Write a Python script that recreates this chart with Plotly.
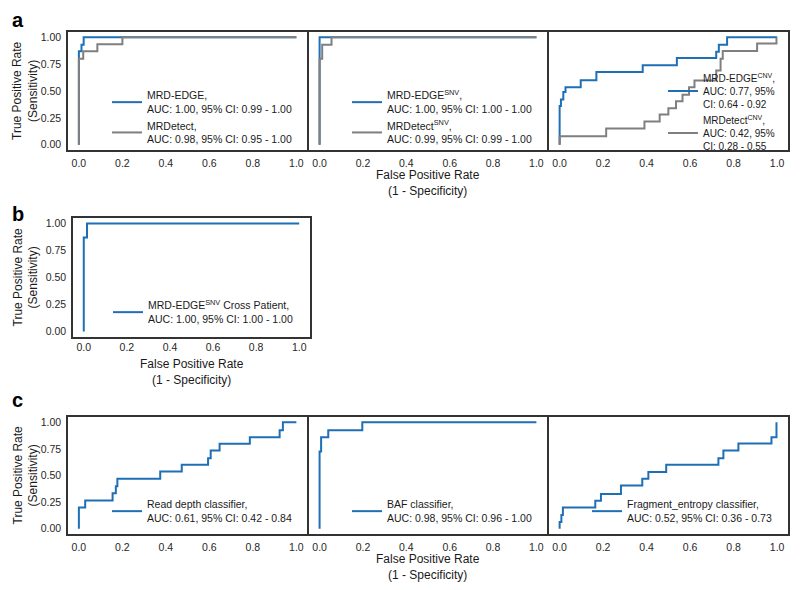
import plotly.graph_objects as go

# The page body has an 8px margin, so the figure is drawn 8px in from the corner.
OFF = 8
W, H = 800 - 2 * OFF, 590 - 2 * OFF
FONT = "Liberation Sans, Arial, sans-serif"
BLUE = "#1f6fb5"
GRAY = "#7f7f7f"

# ---------------- data (ROC corner points: fpr, tpr) ----------------
a1_edge_fpr = [0.0, 0.0, 0.012, 0.022, 1.0]
a1_edge_tpr = [0.0, 0.87, 0.93, 1.0, 1.0]
a1_det_fpr = [0.0, 0.0, 0.02, 0.085, 0.20, 1.0]
a1_det_tpr = [0.0, 0.80, 0.87, 0.935, 1.0, 1.0]

a2_edge_fpr = [0.0, 0.0, 1.0]
a2_edge_tpr = [0.0, 1.0, 1.0]
a2_det_fpr = [0.0, 0.0, 0.012, 0.055, 1.0]
a2_det_tpr = [0.0, 0.80, 0.93, 1.0, 1.0]

a3_edge_fpr = [0.0, 0.0, 0.006, 0.017, 0.027, 0.097, 0.169, 0.382, 0.539, 0.72, 0.732, 0.77, 1.0]
a3_edge_tpr = [0.0, 0.36, 0.42, 0.49, 0.535, 0.600, 0.676, 0.740, 0.808, 0.865, 0.930, 1.0, 1.0]
a3_det_fpr = [0.0, 0.0, 0.214, 0.39, 0.46, 0.50, 0.535, 0.565, 0.595, 0.62, 0.72, 0.74, 0.75, 0.908, 0.997]
a3_det_tpr = [0.0, 0.078, 0.15, 0.215, 0.28, 0.34, 0.405, 0.465, 0.535, 0.597, 0.69, 0.80, 0.874, 0.943, 1.0]

b_fpr = [0.0, 0.0, 0.015, 1.0]
b_tpr = [0.0, 0.87, 1.0, 1.0]

c1_fpr = [0.0, 0.0, 0.029, 0.155, 0.17, 0.177, 0.374, 0.473, 0.594, 0.606, 0.647, 0.786, 0.923, 0.938, 1.0]
c1_tpr = [0.0, 0.20, 0.266, 0.334, 0.40, 0.469, 0.538, 0.60, 0.663, 0.736, 0.798, 0.86, 0.925, 1.0, 1.0]

c2_fpr = [0.0, 0.0, 0.007, 0.04, 0.197, 1.0]
c2_tpr = [0.0, 0.726, 0.86, 0.925, 1.0, 1.0]

c3_fpr = [0.0, 0.0, 0.008, 0.015, 0.164, 0.19, 0.282, 0.38, 0.408, 0.49, 0.73, 0.753, 0.822, 0.974, 0.997]
c3_tpr = [0.0, 0.063, 0.129, 0.20, 0.263, 0.326, 0.405, 0.469, 0.532, 0.60, 0.663, 0.736, 0.80, 0.86, 1.0]

x_ticks = [0.0, 0.2, 0.4, 0.6, 0.8, 1.0]
y_ticks = [0.0, 0.25, 0.5, 0.75, 1.0]

labels = {
    "a1_edge": "MRD-EDGE,<br>AUC: 1.00, 95% CI: 0.99 - 1.00",
    "a1_det": "MRDetect,<br>AUC: 0.98, 95% CI: 0.95 - 1.00",
    "a2_edge": "MRD-EDGE<sup>SNV</sup>,<br>AUC: 1.00, 95% CI: 1.00 - 1.00",
    "a2_det": "MRDetect<sup>SNV</sup>,<br>AUC: 0.99, 95% CI: 0.99 - 1.00",
    "a3_edge": "MRD-EDGE<sup>CNV</sup>,<br>AUC: 0.77, 95%<br>CI: 0.64 - 0.92",
    "a3_det": "MRDetect<sup>CNV</sup>,<br>AUC: 0.42, 95%<br>CI: 0.28 - 0.55",
    "b": "MRD-EDGE<sup>SNV</sup> Cross Patient,<br>AUC: 1.00, 95% CI: 1.00 - 1.00",
    "c1": "Read depth classifier,<br>AUC: 0.61, 95% CI: 0.42 - 0.84",
    "c2": "BAF classifier,<br>AUC: 0.98, 95% CI: 0.96 - 1.00",
    "c3": "Fragment_entropy classifier,<br>AUC: 0.52, 95% CI: 0.36 - 0.73",
}

# ---------------- layout geometry (window pixels) ----------------
LW = 1.5
boxes = {
    1: ((68, 308 - LW / 2), (32, 150)),
    2: ((308 + LW / 2, 548 - LW / 2), (32, 150)),
    3: ((548 + LW / 2, 788), (32, 150)),
    4: ((73, 310), (218, 337)),
    5: ((68, 308 - LW / 2), (417, 534)),
    6: ((308 + LW / 2, 548 - LW / 2), (417, 534)),
    7: ((548 + LW / 2, 788), (417, 534)),
}
legend_pos = {1: (107, 82), 2: (347, 82), 3: (663, 65), 4: (108, 292),
              5: (107, 491), 6: (347, 491), 7: (587, 491)}
legend_size = {1: 10.5, 2: 10.5, 3: 10, 4: 10.5, 5: 10.5, 6: 10.5, 7: 10.5}
xlabel_standoff = {1: 3, 2: 3, 3: 3, 4: 0, 5: 3, 6: 3, 7: 3}


def fx(p):
    return (p - OFF) / W


def fy(p):
    return 1 - (p - OFF) / H


fig = go.Figure()


def add(fpr, tpr, color, name, i):
    sfx = "" if i == 1 else str(i)
    fig.add_trace(go.Scatter(
        x=fpr, y=tpr, mode="lines", name=name,
        line=dict(color=color, width=2, shape="hv"),
        xaxis="x" + sfx, yaxis="y" + sfx, legend="legend" + sfx,
        hoverinfo="skip",
    ))


add(a1_edge_fpr, a1_edge_tpr, BLUE, labels["a1_edge"], 1)
add(a1_det_fpr, a1_det_tpr, GRAY, labels["a1_det"], 1)
add(a2_edge_fpr, a2_edge_tpr, BLUE, labels["a2_edge"], 2)
add(a2_det_fpr, a2_det_tpr, GRAY, labels["a2_det"], 2)
add(a3_edge_fpr, a3_edge_tpr, BLUE, labels["a3_edge"], 3)
add(a3_det_fpr, a3_det_tpr, GRAY, labels["a3_det"], 3)
add(b_fpr, b_tpr, BLUE, labels["b"], 4)
add(c1_fpr, c1_tpr, BLUE, labels["c1"], 5)
add(c2_fpr, c2_tpr, BLUE, labels["c2"], 6)
add(c3_fpr, c3_tpr, BLUE, labels["c3"], 7)

tickfont = dict(family=FONT, size=10.5, color="#262626")
layout = dict(
    width=W, height=H, margin=dict(l=0, r=0, t=0, b=0),
    paper_bgcolor="white", plot_bgcolor="white",
    font=dict(family=FONT, color="#1a1a1a"),
    showlegend=True,
)
for i, ((x0, x1), (y0, y1)) in boxes.items():
    sfx = "" if i == 1 else str(i)
    layout["xaxis" + sfx] = dict(
        domain=[fx(x0), fx(x1)], anchor="y" + sfx, range=[-0.05, 1.05],
        tickvals=x_ticks, tickformat=".1f", showgrid=False, zeroline=False,
        showline=True, mirror=True, linecolor="#333333", linewidth=LW,
        ticks="", ticklabelstandoff=xlabel_standoff[i], tickfont=tickfont, fixedrange=True,
    )
    layout["yaxis" + sfx] = dict(
        domain=[fy(y1), fy(y0)], anchor="x" + sfx, range=[-0.05, 1.05],
        tickvals=y_ticks, tickformat=".2f", showgrid=False, zeroline=False,
        showline=True, mirror=True, linecolor="#333333", linewidth=LW,
        ticks="", ticklabelstandoff=3, tickfont=tickfont, fixedrange=True,
        showticklabels=i in (1, 4, 5),
    )
    lx, ly = legend_pos[i]
    layout["legend" + sfx] = dict(
        x=fx(lx), y=fy(ly), xanchor="left", yanchor="top",
        xref="paper", yref="paper",
        bgcolor="rgba(0,0,0,0)", borderwidth=0, traceorder="normal",
        font=dict(family=FONT, size=legend_size[i], color="#1a1a1a"),
    )

annotations = []
ytitle = "True Positive Rate<br>(Sensitivity)"
xtitle = "False Positive Rate<br>(1 - Specificity)"
for yc in (91, 277.5, 475.5):
    annotations.append(dict(text=ytitle, x=fx(25), y=fy(yc), xref="paper", yref="paper",
                            textangle=-90, showarrow=False, xanchor="center", yanchor="middle",
                            font=dict(family=FONT, size=12, color="#1a1a1a")))
for xc, yc in ((428, 183), (192, 372), (428, 567)):
    annotations.append(dict(text=xtitle, x=fx(xc), y=fy(yc), xref="paper", yref="paper",
                            showarrow=False, xanchor="center", yanchor="middle",
                            font=dict(family=FONT, size=12, color="#1a1a1a")))
for letter, yc in (("a", 20), ("b", 214), ("c", 400)):
    annotations.append(dict(text="<b>" + letter + "</b>", x=fx(10), y=fy(yc),
                            xref="paper", yref="paper", showarrow=False,
                            xanchor="left", yanchor="middle",
                            font=dict(family=FONT, size=20, color="#000000")))
layout["annotations"] = annotations

fig.update_layout(**layout)
fig.write_html("out.html")
